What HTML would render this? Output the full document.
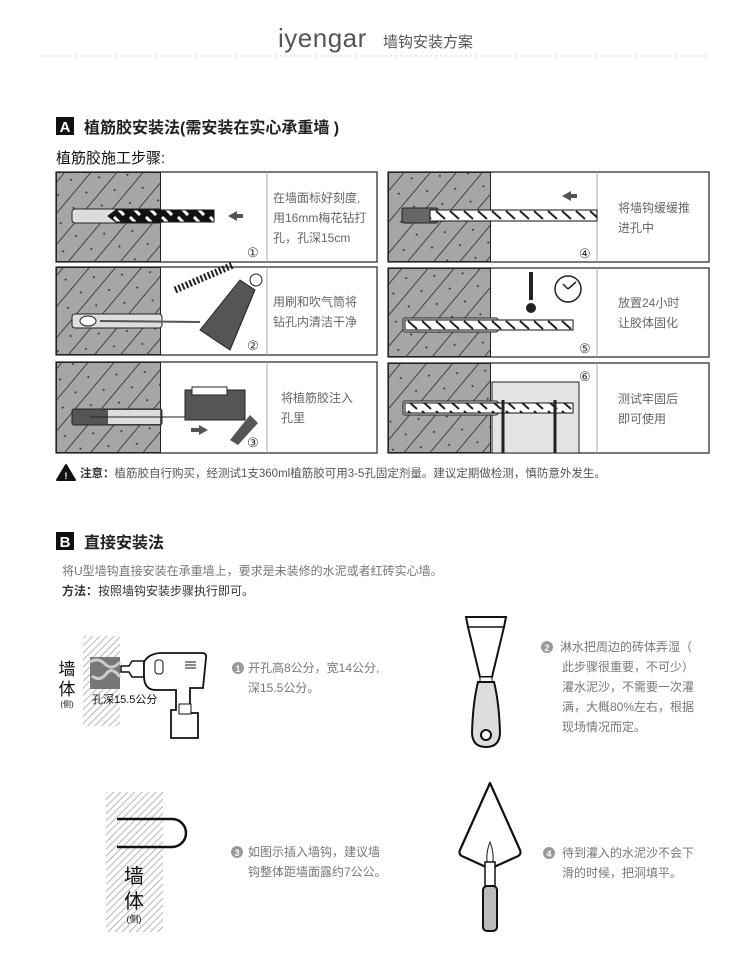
<!DOCTYPE html>
<html><head><meta charset="utf-8"><style>
html,body{margin:0;padding:0;background:#fff;}
svg{display:block;font-family:"Liberation Sans","Noto Sans CJK SC",sans-serif;}
</style></head><body>
<svg width="750" height="954" viewBox="0 0 750 954" xmlns="http://www.w3.org/2000/svg">
<defs>
<pattern id="wall" width="20" height="20" patternUnits="userSpaceOnUse" patternTransform="rotate(-50)">
<rect width="20" height="20" fill="#a6a6a6"/><line x1="0" y1="0" x2="20" y2="0" stroke="#222" stroke-width="1.5"/>
<circle cx="8" cy="10" r="1" fill="#333"/></pattern>
<pattern id="hatch" width="5" height="5" patternUnits="userSpaceOnUse" patternTransform="rotate(45)">
<rect width="5" height="5" fill="#fff"/><line x1="0" y1="0" x2="0" y2="5" stroke="#999" stroke-width="1.4"/></pattern>
<pattern id="rebar" width="14" height="10" patternUnits="userSpaceOnUse">
<rect width="14" height="10" fill="#fff"/><line x1="2" y1="1" x2="11" y2="9" stroke="#222" stroke-width="2"/></pattern>
<pattern id="bit" width="16" height="12" patternUnits="userSpaceOnUse">
<rect width="16" height="12" fill="#111"/><line x1="2" y1="1" x2="12" y2="11" stroke="#fff" stroke-width="3"/></pattern>
</defs>

<text x="278" y="47" font-size="26" fill="#555" font-weight="300" letter-spacing="0.5">iyengar</text>
<text x="383" y="47" font-size="15" fill="#555">墙钩安装方案</text>
<line x1="40" y1="56" x2="710" y2="56" stroke="#ccc" stroke-dasharray="2,3"/>

<rect x="56" y="117" width="18" height="18" fill="#111"/>
<text x="65" y="132" font-size="15" fill="#fff" font-weight="bold" text-anchor="middle">A</text>
<text x="84" y="133" font-size="16" font-weight="bold" fill="#222">植筋胶安装法(需安装在实心承重墙 )</text>
<text x="56" y="163" font-size="15" fill="#111">植筋胶施工步骤:</text>

<g stroke="#222" stroke-width="1.2" fill="none">
<rect x="56" y="172" width="321" height="90"/><rect x="56" y="267" width="321" height="88"/><rect x="56" y="362" width="321" height="91"/>
<rect x="388" y="172" width="321" height="90"/><rect x="388" y="268" width="321" height="89"/><rect x="388" y="363" width="321" height="90"/>
</g>
<g fill="url(#wall)" stroke="#222">
<rect x="56.5" y="172.5" width="104" height="89"/><rect x="56.5" y="267.5" width="104" height="87"/><rect x="56.5" y="362.5" width="104" height="90"/>
<rect x="388.5" y="172.5" width="102" height="89"/><rect x="388.5" y="268.5" width="102" height="88"/><rect x="388.5" y="363.5" width="102" height="89"/>
</g>
<g stroke="#aaa"><line x1="267" y1="172" x2="267" y2="262"/><line x1="267" y1="267" x2="267" y2="355"/><line x1="267" y1="362" x2="267" y2="453"/>
<line x1="597" y1="172" x2="597" y2="262"/><line x1="597" y1="268" x2="597" y2="357"/><line x1="597" y1="363" x2="597" y2="453"/></g>

<rect x="72" y="209" width="90" height="14" rx="3" fill="#ddd" stroke="#222"/>
<path d="M108 216 l8-6 h98 v12 h-98z" fill="url(#bit)" stroke="#111"/>
<path d="M228 216 l9-5 v3 h6 v4 h-6 v3z" fill="#555"/>
<rect x="72" y="314" width="90" height="14" rx="3" fill="#ddd" stroke="#222"/>
<ellipse cx="88" cy="321" rx="8" ry="5" fill="#fff" stroke="#222"/>
<line x1="100" y1="321" x2="200" y2="322" stroke="#555" stroke-width="2"/>
<path d="M175 290 l58 -25" stroke="#222" stroke-width="7" stroke-dasharray="2,2"/>
<path d="M200 330 l40-50 l15 10 l-25 60 z" fill="#555" stroke="#222"/>
<circle cx="256" cy="280" r="6" fill="#fff" stroke="#222"/>
<rect x="72" y="409" width="90" height="16" rx="2" fill="#555" stroke="#222"/>
<rect x="108" y="410" width="52" height="14" fill="#ddd"/>
<line x1="90" y1="417" x2="185" y2="417" stroke="#222"/>
<path d="M185 390 h60 v30 h-60z" fill="#555" stroke="#222"/>
<rect x="192" y="387" width="35" height="8" fill="#fff" stroke="#222"/>
<path d="M230 440 l20-25 l8 8 l-20 22z" fill="#555"/>
<path d="M191 428 h8 v-3 l9 5 l-9 5 v-3 h-8z" fill="#555"/>
<rect x="402" y="208" width="36" height="15" rx="2" fill="#666" stroke="#222"/>
<rect x="430" y="210" width="167" height="11" fill="url(#rebar)" stroke="#111"/>
<path d="M562 196 l9-5 v3 h6 v4 h-6 v3z" fill="#555"/>
<rect x="403" y="318" width="95" height="14" rx="2" fill="#ddd" stroke="#222"/>
<rect x="405" y="320" width="168" height="10" fill="url(#rebar)" stroke="#111"/>
<rect x="529" y="272" width="4" height="28" fill="#222"/><circle cx="531" cy="308" r="5" fill="#222"/>
<circle cx="568" cy="289" r="13" fill="#fff" stroke="#222" stroke-width="1.5"/>
<path d="M568 289 l-5 -5 M568 289 l8 -7" stroke="#222" stroke-width="1.5"/>
<rect x="492" y="382" width="87" height="71" fill="#e4e4e4" stroke="#222"/>
<rect x="403" y="401" width="95" height="14" rx="2" fill="#ddd" stroke="#222"/>
<rect x="405" y="403" width="168" height="10" fill="url(#rebar)" stroke="#111"/>
<line x1="503" y1="400" x2="503" y2="453" stroke="#222" stroke-width="3"/><line x1="555" y1="400" x2="555" y2="453" stroke="#222" stroke-width="3"/>

<g font-size="12" fill="#666">
<text x="273" y="202">在墙面标好刻度,</text><text x="273" y="222">用16mm梅花钻打</text><text x="273" y="242">孔，孔深15cm</text>
<text x="273" y="306">用刷和吹气筒将</text><text x="273" y="326">钻孔内清洁干净</text>
<text x="281" y="402">将植筋胶注入</text><text x="281" y="422">孔里</text>
<text x="618" y="212">将墙钩缓缓推</text><text x="618" y="232">进孔中</text>
<text x="618" y="307">放置24小时</text><text x="618" y="327">让胶体固化</text>
<text x="618" y="403">测试牢固后</text><text x="618" y="423">即可使用</text>
</g>
<g font-size="13" fill="#333" font-family="Liberation Serif,serif">
<text x="247" y="257">①</text><text x="247" y="350">②</text><text x="247" y="447">③</text>
<text x="579" y="258">④</text><text x="579" y="353">⑤</text><text x="579" y="381">⑥</text></g>

<path d="M66 465 l9 15 h-18z" fill="#111" stroke="#111" stroke-linejoin="round" stroke-width="2"/>
<text x="66" y="479" font-size="9" fill="#fff" text-anchor="middle" font-weight="bold">!</text>
<text x="80" y="477" font-size="11.5" fill="#333"><tspan font-weight="bold">注意：</tspan><tspan fill="#555">植筋胶自行购买，经测试1支360ml植筋胶可用3-5孔固定剂量。建议定期做检测，慎防意外发生。</tspan></text>

<rect x="56" y="532" width="18" height="18" fill="#111"/>
<text x="65" y="547" font-size="15" fill="#fff" font-weight="bold" text-anchor="middle">B</text>
<text x="84" y="548" font-size="16" font-weight="bold" fill="#222">直接安装法</text>
<text x="62" y="575" font-size="12" fill="#777">将U型墙钩直接安装在承重墙上，要求是未装修的水泥或者红砖实心墙。</text>
<text x="62" y="595" font-size="12" fill="#333"><tspan font-weight="bold">方法：</tspan>按照墙钩安装步骤执行即可。</text>

<rect x="83" y="636" width="37" height="90" fill="url(#hatch)"/>
<rect x="90" y="657" width="30" height="32" fill="#777"/>
<path d="M90 662 q8-5 15 2 t15 -2 M92 676 q8 6 14 -2 t14 3" stroke="#ccc" stroke-width="3" fill="none"/>
<text x="67" y="675" font-size="17" fill="#111" text-anchor="middle">墙</text>
<text x="67" y="695" font-size="17" fill="#111" text-anchor="middle">体</text>
<text x="67" y="707" font-size="8" fill="#111" text-anchor="middle">(侧)</text>
<text x="92" y="703" font-size="11" fill="#111">孔深15.5公分</text>
<path d="M121 666 h8 l3-5 h12 v16 h-12 l-3-5 h-8z" fill="#fff" stroke="#111" stroke-width="1.5"/>
<path d="M144 662 q5-9 18-9 h40 q5 0 4 5 l-3 30 h-13 v25 h8 v25 h-27 v-28 h5 v-20 h-20 q-12 0 -12-14z" fill="#fff" stroke="#111" stroke-width="1.8"/>
<rect x="155" y="660" width="8" height="14" rx="3" fill="#fff" stroke="#111"/>
<rect x="179" y="704" width="12" height="10" fill="#fff" stroke="#111"/>
<line x1="185" y1="662" x2="196" y2="662" stroke="#111"/><line x1="185" y1="665" x2="196" y2="665" stroke="#111"/><line x1="185" y1="668" x2="196" y2="668" stroke="#111"/>
<circle cx="238" cy="668" r="6" fill="#999"/><text x="238" y="672" font-size="9" fill="#fff" text-anchor="middle" font-weight="bold">1</text>
<text x="248" y="672" font-size="12" fill="#777">开孔高8公分，宽14公分,</text>
<text x="248" y="692" font-size="12" fill="#777">深15.5公分。</text>

<rect x="106" y="792" width="57" height="140" fill="url(#hatch)"/>
<path d="M117 819 h55 a14 14 0 0 1 0 28 h-55" fill="none" stroke="#111" stroke-width="2.5"/>
<text x="134" y="883" font-size="20" fill="#111" text-anchor="middle">墙</text>
<text x="134" y="908" font-size="20" fill="#111" text-anchor="middle">体</text>
<text x="134" y="922" font-size="9" fill="#111" text-anchor="middle">(侧)</text>
<circle cx="237" cy="852" r="6" fill="#999"/><text x="237" y="856" font-size="9" fill="#fff" text-anchor="middle" font-weight="bold">3</text>
<text x="248" y="856" font-size="12" fill="#777">如图示插入墙钩，建议墙</text>
<text x="248" y="876" font-size="12" fill="#777">钩整体距墙面露约7公公。</text>

<path d="M466 617 h40 l-2 10 l-12 50 h-12 l-12 -50z" fill="#fff" stroke="#111" stroke-width="2"/>
<line x1="467" y1="627" x2="505" y2="627" stroke="#111" stroke-width="1.5"/>
<rect x="480" y="677" width="12" height="5" fill="#fff" stroke="#111"/>
<path d="M478 682 h16 q5 20 6 50 q0 15 -14 15 q-14 0 -14 -15 q1-30 6-50z" fill="#ddd" stroke="#111" stroke-width="2"/>
<circle cx="486" cy="735" r="5" fill="#fff" stroke="#111" stroke-width="2"/>
<circle cx="547" cy="647" r="6" fill="#999"/><text x="547" y="651" font-size="9" fill="#fff" text-anchor="middle" font-weight="bold">2</text>
<g font-size="12" fill="#777"><text x="560" y="651">淋水把周边的砖体弄湿（</text><text x="562" y="671">此步骤很重要，不可少）</text>
<text x="562" y="691">灌水泥沙，不需要一次灌</text><text x="562" y="711">满，大概80%左右，根据</text><text x="562" y="731">现场情况而定。</text></g>

<path d="M490 783 l-30 67 q-2 5 4 7 l22 10 h8 l22 -10 q6 -2 4 -7z" fill="#fff" stroke="#111" stroke-width="2.2" stroke-linejoin="round"/>
<path d="M490 842 q-4 10 -3 20 h6 q1-10 -3-20z" fill="#fff" stroke="#111"/>
<rect x="485" y="862" width="10" height="24" fill="#fff" stroke="#111" stroke-width="1.5"/>
<rect x="483" y="886" width="14" height="45" rx="4" fill="#bbb" stroke="#111" stroke-width="2"/>
<circle cx="549" cy="853" r="6" fill="#999"/><text x="549" y="857" font-size="9" fill="#fff" text-anchor="middle" font-weight="bold">4</text>
<text x="562" y="857" font-size="12" fill="#777">待到灌入的水泥沙不会下</text>
<text x="562" y="877" font-size="12" fill="#777">滑的时候，把洞填平。</text>
</svg>
</body></html>
